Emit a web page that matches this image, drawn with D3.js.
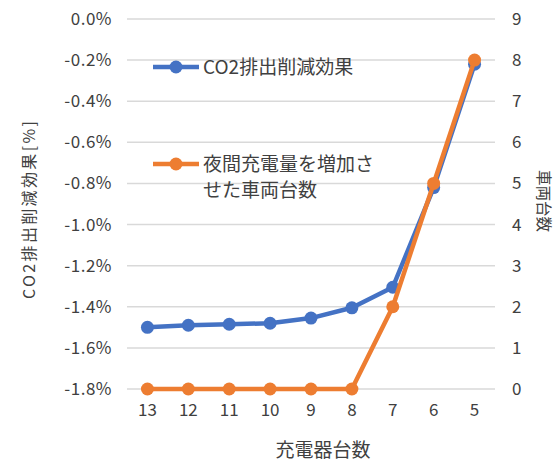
<!DOCTYPE html>
<html>
<head>
<meta charset="utf-8">
<script src="https://cdn.jsdelivr.net/npm/d3@7/dist/d3.min.js"></script>
<style>
  html, body { margin: 0; padding: 0; background: #fff; }
  svg { display: block; }
  text { font-family: "Noto Sans CJK JP", "Noto Sans", sans-serif; fill: #404040; }
</style>
</head>
<body>
<script>
// Number of chargers (x categories)
const chargers = ["13", "12", "11", "10", "9", "8", "7", "6", "5"];
// CO2 emission reduction effect [%] (left axis)
const co2Effect = [-1.50, -1.49, -1.485, -1.48, -1.455, -1.405, -1.305, -0.82, -0.22];
// Vehicles with increased night-time charging (right axis)
const vehicles = [0, 0, 0, 0, 0, 0, 2, 5, 8];
// Axis ticks
const leftTicks = [0, -0.2, -0.4, -0.6, -0.8, -1.0, -1.2, -1.4, -1.6, -1.8];
const rightTicks = [0, 1, 2, 3, 4, 5, 6, 7, 8, 9];
// Series names
const seriesNames = ["CO2排出削減効果", ["夜間充電量を増加さ", "せた車両台数"]];

const W = 558, H = 464;
const plot = { left: 127, right: 495, top: 19, bottom: 389 };
const blue = "#4472C4", orange = "#ED7D31", grid = "#d9d9d9";

const svg = d3.select("body").append("svg").attr("width", W).attr("height", H);

const x = d3.scaleBand().domain(chargers).range([plot.left, plot.right]).padding(0);
const yL = d3.scaleLinear().domain([-1.8, 0]).range([plot.bottom, plot.top]);
const yR = d3.scaleLinear().domain([0, 9]).range([plot.bottom, plot.top]);
const cx = d => x(d) + x.bandwidth() / 2;

// Horizontal gridlines
svg.append("g").selectAll("line").data(leftTicks).join("line")
  .attr("x1", plot.left).attr("x2", plot.right)
  .attr("y1", d => yL(d)).attr("y2", d => yL(d))
  .attr("stroke", grid).attr("stroke-width", 1.5);

// Left axis labels (plain hyphen minus, one decimal, percent)
const pct = d => (d === 0 ? "0.0" : d3.format(".1f")(d).replace("\u2212", "-")) + "%";
const leftAxis = d3.axisLeft(yL).tickValues(leftTicks).tickFormat(pct)
  .tickSize(0).tickPadding(0);
const gL = svg.append("g").attr("transform", "translate(112,0)").call(leftAxis);
gL.select(".domain").remove();
gL.selectAll("text").attr("font-size", 17).attr("fill", "#595959")
  .attr("font-family", "'Noto Sans CJK JP', sans-serif").attr("letter-spacing", 0.5);

// Right axis labels
const rightAxis = d3.axisRight(yR).tickValues(rightTicks).tickSize(0).tickPadding(0);
const gR = svg.append("g").attr("transform", "translate(512,0)").call(rightAxis);
gR.select(".domain").remove();
gR.selectAll("text").attr("font-size", 17).attr("fill", "#595959")
  .attr("font-family", "'Noto Sans CJK JP', sans-serif");

// Bottom axis labels
const bottomAxis = d3.axisBottom(x).tickSize(0).tickPadding(0);
const gB = svg.append("g").attr("transform", "translate(0,404)").call(bottomAxis);
gB.select(".domain").remove();
gB.selectAll("text").attr("font-size", 17).attr("fill", "#595959")
  .attr("font-family", "'Noto Sans CJK JP', sans-serif");

// Series: CO2 effect (left axis)
const lineL = d3.line().x((d, i) => cx(chargers[i])).y(d => yL(d));
svg.append("path").datum(co2Effect).attr("d", lineL)
  .attr("fill", "none").attr("stroke", blue).attr("stroke-width", 4.5)
  .attr("stroke-linejoin", "round");
svg.append("g").selectAll("circle").data(co2Effect).join("circle")
  .attr("cx", (d, i) => cx(chargers[i])).attr("cy", d => yL(d))
  .attr("r", 6.5).attr("fill", blue);

// Series: vehicles (right axis)
const lineR = d3.line().x((d, i) => cx(chargers[i])).y(d => yR(d));
svg.append("path").datum(vehicles).attr("d", lineR)
  .attr("fill", "none").attr("stroke", orange).attr("stroke-width", 4.5)
  .attr("stroke-linejoin", "round");
svg.append("g").selectAll("circle").data(vehicles).join("circle")
  .attr("cx", (d, i) => cx(chargers[i])).attr("cy", d => yR(d))
  .attr("r", 6.5).attr("fill", orange);

// Legend
const legend = svg.append("g");
const legendItems = [
  { color: blue, y: 67, lines: [seriesNames[0]] },
  { color: orange, y: 164, lines: seriesNames[1] }
];
legendItems.forEach(item => {
  legend.append("line").attr("x1", 153).attr("x2", 199)
    .attr("y1", item.y).attr("y2", item.y)
    .attr("stroke", item.color).attr("stroke-width", 4.5);
  legend.append("circle").attr("cx", 176).attr("cy", item.y).attr("r", 6.5).attr("fill", item.color);
  item.lines.forEach((t, k) => {
    legend.append("text").attr("x", 203).attr("y", item.y + k * 26)
      .attr("dy", "0.36em").attr("font-size", 19).attr("fill", "#262626").text(t);
  });
});

// Axis titles
svg.append("text").attr("transform", "translate(29,210) rotate(-90)")
  .attr("text-anchor", "middle").attr("dy", "0.36em")
  .attr("font-size", 16).attr("fill", "#404040")
  .attr("textLength", 178).attr("lengthAdjust", "spacing")
  .text("CO2排出削減効果[%]");

svg.append("text").attr("transform", "translate(544,201) rotate(90)")
  .attr("text-anchor", "middle").attr("dy", "0.36em")
  .attr("font-size", 15.5).attr("fill", "#404040")
  .text("車両台数");

svg.append("text").attr("x", 323).attr("y", 450)
  .attr("text-anchor", "middle").attr("dy", "0.36em")
  .attr("font-size", 19).attr("fill", "#404040")
  .text("充電器台数");
</script>
</body>
</html>
